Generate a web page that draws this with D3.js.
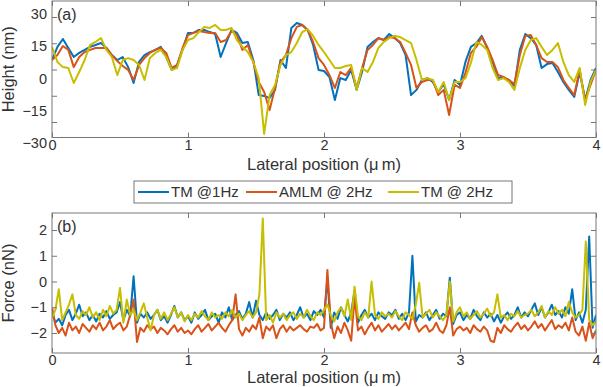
<!DOCTYPE html>
<html>
<head>
<meta charset="utf-8">
<script src="https://cdn.jsdelivr.net/npm/d3@7/dist/d3.min.js"></script>
<style>
  body { margin: 0; background: #fff; }
  text { font-family: "Liberation Sans", Arial, sans-serif; fill: #333; }
</style>
</head>
<body>
<svg id="chart" width="603" height="387"></svg>
<script>
// ---- data ----
const seriesNames = ["TM @1Hz", "AMLM @ 2Hz", "TM @ 2Hz"];
const seriesColors = ["#0072bd", "#d95319", "#c8be00"];
const xTicks = [0, 1, 2, 3, 4];
const heightTicks = [30, 15, 0, -15, -30];
const forceTicks = [2, 1, 0, -1, -2];

// lateral positions (um)
const heightPos = d3.range(101).map(i => i * 0.04);
const forcePos = d3.range(161).map(i => i * 0.025);

// height (nm)
const heightTM1 = [8.6,14.7,18.4,14.2,10.0,11.9,13.3,14.7,15.6,16.5,
  14.2,10.9,8.6,10.0,5.3,-2.1,7.7,10.9,12.3,13.3,
  14.7,10.0,4.0,6.3,13.3,21.2,21.2,22.6,22.6,21.6,
  20.7,10.0,16.5,22.6,21.2,16.5,17.0,8.6,-7.7,-8.1,
  -9.1,-5.3,8.6,4.9,23.5,25.8,24.9,22.6,15.6,4.0,
  3.5,0.7,-10.0,0.2,-0.7,4.0,-5.3,3.0,14.7,17.0,
  18.8,17.9,20.7,18.8,16.5,10.9,-7.7,-5.3,-0.7,0.2,
  -1.6,-6.3,-2.6,-10.0,-0.7,-3.0,7.7,14.7,16.5,19.8,
  14.2,7.7,0.2,0.2,-0.7,-3.5,13.3,20.7,18.8,15.6,
  4.9,6.7,7.2,3.0,-1.6,-5.3,-8.6,3.0,-10.0,-0.7,
  4.9];
const heightAMLM = [8.6,10.9,15.1,13.3,5.3,10.0,12.3,13.3,14.2,14.2,
  14.2,10.9,8.1,5.8,4.0,-0.7,6.3,9.5,11.9,13.3,
  14.2,11.9,4.9,6.3,14.2,20.2,21.2,22.1,21.6,21.2,
  21.2,17.0,17.9,22.1,20.2,13.3,15.6,7.7,-1.6,-6.3,
  -14.7,-4.4,7.7,10.9,18.8,24.0,24.9,22.6,17.0,9.5,
  6.3,1.6,-4.4,3.0,1.6,4.9,-4.4,4.9,13.3,15.6,
  18.8,17.9,19.3,18.8,17.0,11.9,6.3,-4.4,-1.6,-0.7,
  -0.7,-7.7,-5.3,-17.0,-3.0,-4.4,2.6,11.9,14.7,19.3,
  14.7,8.6,1.6,0.7,-0.7,-2.6,10.9,19.8,20.2,15.6,
  9.5,7.7,7.7,5.3,-0.7,-4.4,-7.7,4.0,-10.0,-3.0,
  4.0];
const heightTM2 = [14.7,7.7,5.3,4.9,-2.1,3.0,8.6,15.6,17.0,18.8,
  13.3,10.0,1.6,8.6,9.5,8.6,6.3,-0.7,9.5,11.9,
  13.3,10.0,4.0,4.9,13.3,17.9,18.8,21.6,24.0,23.5,
  24.9,22.6,22.6,23.5,17.9,14.7,12.3,7.7,0.2,-25.8,
  -7.7,-3.0,6.3,10.9,12.3,16.5,21.6,23.0,19.8,15.6,
  12.3,8.6,4.9,4.9,5.8,6.3,-5.3,4.9,3.0,7.7,
  14.2,17.0,18.8,19.8,19.3,17.9,16.5,8.6,-0.7,0.2,
  -0.7,-6.3,-1.6,-10.0,-1.6,-1.6,0.2,7.2,17.0,15.6,
  13.3,4.9,-0.7,0.2,-1.6,-5.3,4.9,13.3,17.9,18.8,
  14.7,10.9,13.3,16.5,7.7,1.6,-1.6,4.9,-12.3,-1.6,
  4.0];

// force (nN)
const forceTM1 = [-1.2,-1.6,-1.45,-1.7,-1.3,-1.1,-1.5,-1.25,-0.9,-1.35,
  -1.2,-1.5,-1.3,-1.55,-1.25,-1.4,-1.15,-1.45,-1.3,-1.2,
  -0.8,-1.5,-1.1,-1.35,0.2,-1.6,-1.25,-1.4,-1.2,-1.45,
  -1.3,-1.1,-1.5,-1.35,-1.6,-1.3,-0.95,-1.4,-1.2,-1.5,
  -1.35,-1.6,-1.2,-1.45,-1.3,-1.1,-1.5,-1.35,-1.25,-1.6,
  -1.2,-1.4,-1.0,-1.5,-1.3,-1.15,-1.45,-1.25,-0.8,-1.4,
  -0.75,-1.3,-1.5,-1.2,-1.45,-1.3,-1.1,-1.5,-1.25,-1.4,
  -1.2,-1.5,-1.3,-1.0,-1.4,-1.25,-1.5,-1.15,-1.3,-1.1,
  -1.4,0.1,-1.8,-1.2,-1.45,-1.0,-1.3,-1.55,-1.2,-0.35,
  -1.6,-1.3,-1.1,-1.4,-1.25,-1.5,-1.2,-1.35,-1.45,-1.2,
  -1.3,-1.1,-1.45,-1.25,-1.5,-1.2,1.0,-1.55,-1.3,-1.4,
  -1.2,-1.5,-1.3,-1.1,-1.45,-1.25,-1.35,0.15,-1.65,-1.3,
  -1.2,-1.5,-1.3,-1.45,-1.1,-1.35,-1.5,-1.2,-1.4,-1.25,
  -1.55,-1.3,-1.6,-1.35,-1.2,-1.45,-1.3,-1.0,-1.4,-1.2,
  -1.35,-1.1,-0.85,-1.3,-1.0,-1.4,-1.2,-0.9,-1.3,-1.15,
  -1.4,-1.0,-1.25,-0.3,-1.5,-1.2,-1.6,-1.1,1.75,-1.8,
  -1.3];
const forceAMLM = [-1.0,-1.7,-2.0,-1.8,-2.1,-1.6,-1.9,-1.75,-2.0,-1.65,
  -1.8,-1.95,-1.7,-1.85,-1.6,-1.9,-1.75,-1.5,-1.85,-1.7,
  -1.6,-1.9,-1.75,-1.3,-0.7,-2.35,-1.8,-1.95,-1.7,-1.85,
  -1.75,-2.0,-1.8,-1.9,-2.05,-1.85,-1.7,-1.95,-1.8,-2.0,
  -1.9,-2.05,-1.85,-1.7,-1.95,-1.8,-1.65,-1.9,-1.75,-1.6,
  -1.8,-1.95,-1.7,-1.5,-0.5,-1.85,-2.1,-1.8,-1.95,-1.7,
  -1.85,-1.4,-2.2,-1.75,-1.9,-1.7,-2.2,-1.85,-1.7,-1.95,
  -1.75,-1.9,-1.8,-1.7,-1.85,-1.95,-1.75,-1.8,-1.65,-1.9,
  -1.8,0.45,-1.6,-2.2,-1.75,-2.0,-1.6,-1.9,-2.3,-0.6,
  -1.9,-1.75,-2.05,-1.8,-1.6,-1.9,-1.7,-1.95,-1.8,-1.65,
  -1.85,-1.7,-1.9,-1.75,-1.6,-1.85,-1.2,-1.7,-1.95,-1.8,
  -1.7,-1.95,-1.85,-1.6,-1.9,-2.0,-1.7,-1.0,-2.1,-1.85,
  -1.75,-1.9,-1.8,-2.0,-1.7,-1.85,-1.95,-1.75,-1.9,-2.3,
  -2.35,-1.8,-2.0,-1.7,-1.85,-1.95,-1.75,-1.6,-1.85,-1.7,
  -1.9,-1.75,-1.55,-1.8,-1.65,-1.9,-1.7,-1.5,-1.85,-1.7,
  -1.8,-1.6,-1.9,-1.4,-1.95,-2.1,-1.75,-2.3,-1.6,-2.2,
  -1.9];
const forceTM2 = [-1.4,-1.1,-0.3,-1.5,-1.2,-0.9,-0.5,-1.3,-1.45,-1.15,
  -1.3,-1.0,-1.4,-1.2,-1.5,-1.1,-1.35,-0.95,-1.25,-1.1,
  -0.25,-1.6,-0.7,-1.3,-1.1,-1.5,-1.2,-0.85,-1.4,-1.9,
  -1.3,-1.1,-1.45,-1.2,-1.5,-1.25,-1.0,-1.4,-1.2,-1.55,
  -1.3,-1.5,-1.25,-1.4,-1.15,-1.35,-1.5,-1.2,-1.4,-1.3,
  -1.45,-1.2,-1.35,-1.1,-1.4,-1.25,-1.5,-1.3,-1.15,-1.4,
  -1.2,-0.5,2.45,-1.5,-1.3,-1.6,-1.2,-1.4,-1.25,-1.5,
  -1.3,-1.2,-1.45,-1.25,-1.4,-1.1,-1.35,-1.5,-1.2,-1.3,
  -1.1,-0.9,-1.3,-1.55,-1.2,-1.0,-1.35,-0.7,-1.5,-0.2,
  -1.35,-1.5,-1.2,-1.4,0.0,-1.3,-1.45,-1.2,-1.35,-1.25,
  -1.4,-1.15,-1.35,-1.5,-1.2,-1.3,-1.45,-0.9,-0.05,-1.4,
  -1.25,-1.1,-1.4,-1.2,-1.35,-1.5,-1.3,0.0,-1.55,-1.2,
  -1.0,-1.35,-1.2,-1.45,-1.3,-1.15,-1.4,-1.25,-1.05,-1.35,
  -1.2,-0.5,-1.4,-1.3,-1.5,-1.25,-1.35,-1.15,-1.4,-1.3,
  -1.25,-1.1,-1.35,-1.2,-0.95,-1.4,-1.15,-1.3,-1.0,-1.25,
  -1.1,-1.35,-0.8,-1.2,-1.4,-1.3,-1.1,1.55,-1.5,-1.7,
  -1.55];

// ---- layout ----
const svg = d3.select("#chart");
const left = 52, right = 596;
const panelA = { top: 1, bottom: 137.5, labelY: 170 };
const panelB = { top: 213, bottom: 353, labelY: 383 };
const axisColor = "#777";

const x = d3.scaleLinear().domain([0, 4]).range([left, right]);
const yHeight = d3.scaleLinear().domain([-30, 30]).range([143, 14]);
// tick marks of panel (a) sit on their own spacing in the original figure
const yHeightTick = d3.scaleLinear().domain([-30, 30]).range([122, 17]);
const yForce = d3.scaleLinear().domain([-2, 2]).range([333, 230]);

function styleAxis(g) {
  g.select(".domain").remove();
  g.selectAll(".tick line").attr("stroke", axisColor);
  g.selectAll(".tick text").attr("fill", "#333").style("font-size", "14.5px");
}

function drawPanel(id, box, yScale, yTickScale, yTicks, pos, series, yLabel, panelLabel) {
  const g = svg.append("g");

  g.append("clipPath").attr("id", "clip-" + id)
    .append("rect")
    .attr("x", left).attr("y", box.top)
    .attr("width", right - left).attr("height", box.bottom - box.top);

  // lines
  const line = d3.line()
    .x((d, i) => x(pos[i]))
    .y(d => yScale(d));
  g.append("g").attr("clip-path", "url(#clip-" + id + ")")
    .selectAll("path")
    .data(series)
    .enter()
    .append("path")
    .attr("d", d => line(d))
    .attr("fill", "none")
    .attr("stroke", (d, i) => seriesColors[i])
    .attr("stroke-width", 2)
    .attr("stroke-linejoin", "round");

  // x axis bottom + mirror top
  g.append("g")
    .attr("transform", "translate(0," + box.bottom + ")")
    .call(d3.axisBottom(x).tickValues(xTicks).tickSize(-5).tickPadding(2).tickFormat(d3.format("d")))
    .call(styleAxis);
  g.append("g")
    .attr("transform", "translate(0," + box.top + ")")
    .call(d3.axisTop(x).tickValues(xTicks).tickSize(-5).tickFormat(""))
    .call(styleAxis);

  // y tick marks left + right
  g.append("g")
    .attr("transform", "translate(" + left + ",0)")
    .call(d3.axisLeft(yTickScale).tickValues(yTicks).tickSize(-5).tickFormat(""))
    .call(styleAxis);
  g.append("g")
    .attr("transform", "translate(" + right + ",0)")
    .call(d3.axisRight(yTickScale).tickValues(yTicks).tickSize(-5).tickFormat(""))
    .call(styleAxis);
  // y tick labels
  g.append("g")
    .attr("transform", "translate(" + left + ",0)")
    .call(d3.axisLeft(yScale).tickValues(yTicks).tickSize(0).tickPadding(5).tickFormat(d3.format("d")))
    .call(styleAxis);

  // box
  g.append("rect")
    .attr("x", left).attr("y", box.top)
    .attr("width", right - left).attr("height", box.bottom - box.top)
    .attr("fill", "none").attr("stroke", axisColor).attr("stroke-width", 1);

  // labels
  g.append("text")
    .attr("x", (left + right) / 2)
    .attr("y", box.labelY)
    .attr("text-anchor", "middle")
    .style("font-size", "16.5px")
    .text("Lateral position (\u03bc\u2009m)");

  g.append("text")
    .attr("transform", "translate(14," + ((box.top + box.bottom) / 2) + ") rotate(-90)")
    .attr("text-anchor", "middle")
    .style("font-size", "16.5px")
    .text(yLabel);

  g.append("text")
    .attr("x", 57)
    .attr("y", box.top + 19)
    .style("font-size", "16px")
    .text(panelLabel);
}

drawPanel("a", panelA, yHeight, yHeightTick, heightTicks, heightPos,
  [heightTM1, heightAMLM, heightTM2], "Height (nm)", "(a)");
drawPanel("b", panelB, yForce, yForce, forceTicks, forcePos,
  [forceTM1, forceAMLM, forceTM2], "Force (nN)", "(b)");

// ---- legend ----
const legend = svg.append("g");
legend.append("rect")
  .attr("x", 134).attr("y", 181)
  .attr("width", 378).attr("height", 22)
  .attr("fill", "#fff").attr("stroke", axisColor);

const legendX = [138, 246, 388];
const items = legend.selectAll("g.item")
  .data(seriesNames)
  .enter()
  .append("g")
  .attr("class", "item")
  .attr("transform", (d, i) => "translate(" + legendX[i] + ",192)");
items.append("line")
  .attr("x1", 0).attr("x2", 31)
  .attr("stroke", (d, i) => seriesColors[i])
  .attr("stroke-width", 2);
items.append("text")
  .attr("x", 33)
  .attr("dy", "0.36em")
  .style("font-size", "15px")
  .text(d => d);
</script>
</body>
</html>
